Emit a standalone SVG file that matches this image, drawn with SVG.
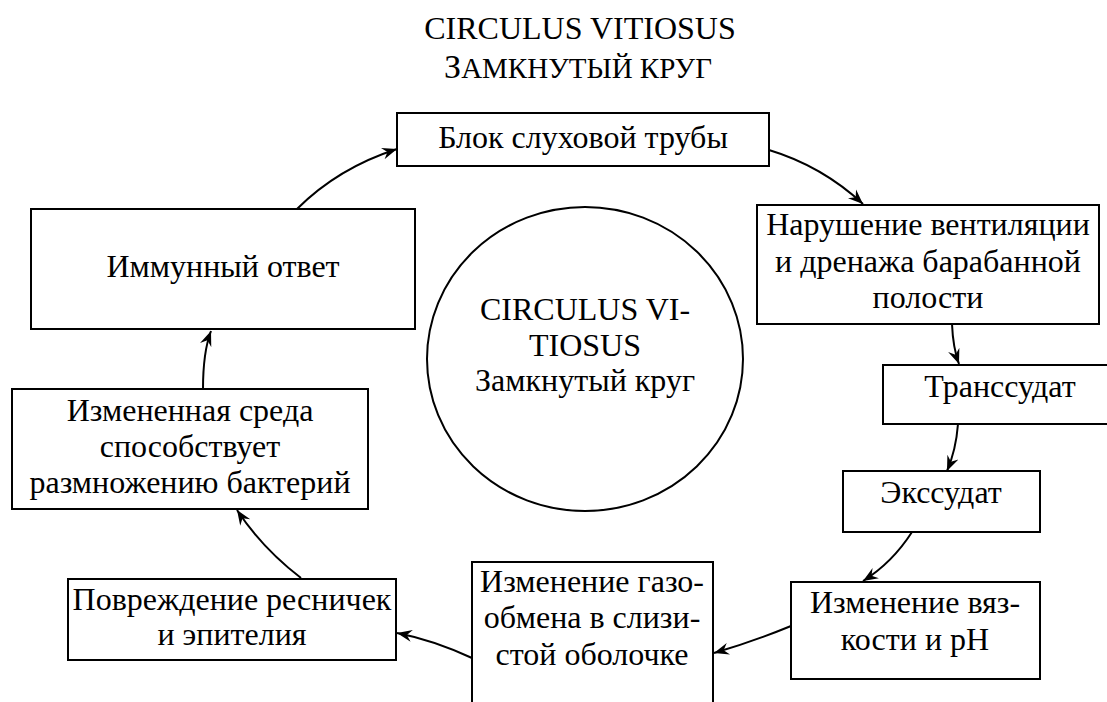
<svg xmlns="http://www.w3.org/2000/svg" width="1107" height="702" viewBox="0 0 1107 702">
<style>
text{font-family:"Liberation Serif","Times New Roman",serif;font-size:32px;fill:#000;text-anchor:middle}
.sc{font-size:29px}
.big{font-size:34px}
.box{fill:#fff;stroke:#000;stroke-width:2}
.con{fill:none;stroke:#000;stroke-width:2}
</style>
<defs>
<marker id="ah" markerUnits="userSpaceOnUse" markerWidth="20" markerHeight="14" refX="15" refY="6" orient="auto" viewBox="0 0 20 12">
<path d="M0,0 L15,6 L0,12 L5,6 z" fill="#000"/>
</marker>
</defs>
<rect width="1107" height="702" fill="#fff"/>
<g id="title">
<text x="580" y="39">CIRCULUS VITIOSUS</text>
<text x="578" y="78"><tspan class="big">З</tspan><tspan class="sc">АМКНУТЫЙ КРУГ</tspan></text>
</g>
<g id="center">
<ellipse cx="585" cy="359" rx="158" ry="152" fill="none" stroke="#000" stroke-width="2"/>
<text x="585" y="320">CIRCULUS VI-</text>
<text x="585" y="356">TIOSUS</text>
<text x="585" y="391">Замкнутый круг</text>
</g>
<g id="n1">
<rect class="box" x="397" y="113" width="372" height="53"/>
<text x="583" y="148">Блок слуховой трубы</text>
</g>
<g id="n2">
<rect class="box" x="757" y="205" width="342" height="119"/>
<text x="928" y="235">Нарушение вентиляции</text>
<text x="928" y="272">и дренажа барабанной</text>
<text x="928" y="308">полости</text>
</g>
<g id="n3">
<rect class="box" x="883" y="365" width="240" height="59"/>
<text x="1000" y="397">Транссудат</text>
</g>
<g id="n4">
<rect class="box" x="843" y="471" width="197" height="61"/>
<text x="941" y="503">Экссудат</text>
</g>
<g id="n5">
<rect class="box" x="791" y="582" width="249" height="97"/>
<text x="915" y="613">Изменение вяз-</text>
<text x="915" y="650">кости и pH</text>
</g>
<g id="n6">
<rect class="box" x="472" y="562" width="241" height="160"/>
<text x="592" y="592">Изменение газо-</text>
<text x="592" y="628">обмена в слизи-</text>
<text x="592" y="665">стой оболочке</text>
</g>
<g id="n7">
<rect class="box" x="68" y="579" width="328" height="81"/>
<text x="232" y="610">Повреждение ресничек</text>
<text x="232" y="645">и эпителия</text>
</g>
<g id="n8">
<rect class="box" x="12" y="389" width="356" height="120"/>
<text x="190" y="421">Измененная среда</text>
<text x="190" y="457">способствует</text>
<text x="190" y="493">размножению бактерий</text>
</g>
<g id="n9">
<rect class="box" x="31" y="209" width="384" height="120"/>
<text x="223" y="277">Иммунный ответ</text>
</g>
<g id="connectors">
<path class="con" marker-end="url(#ah)" d="M297,209 Q338,168 397,149"/>
<path class="con" marker-end="url(#ah)" d="M769,150 Q822,166 863,204"/>
<path class="con" marker-end="url(#ah)" d="M952,324 Q953,348 959,364"/>
<path class="con" marker-end="url(#ah)" d="M958,424 Q956,450 947,471"/>
<path class="con" marker-end="url(#ah)" d="M912,532 Q892,563 863,581"/>
<path class="con" marker-end="url(#ah)" d="M791,626 Q752,642 714,653"/>
<path class="con" marker-end="url(#ah)" d="M472,658 Q433,640 397,633"/>
<path class="con" marker-end="url(#ah)" d="M301,578 Q262,548 237,510"/>
<path class="con" marker-end="url(#ah)" d="M203,389 Q203,352 211,331"/>
</g>
</svg>
